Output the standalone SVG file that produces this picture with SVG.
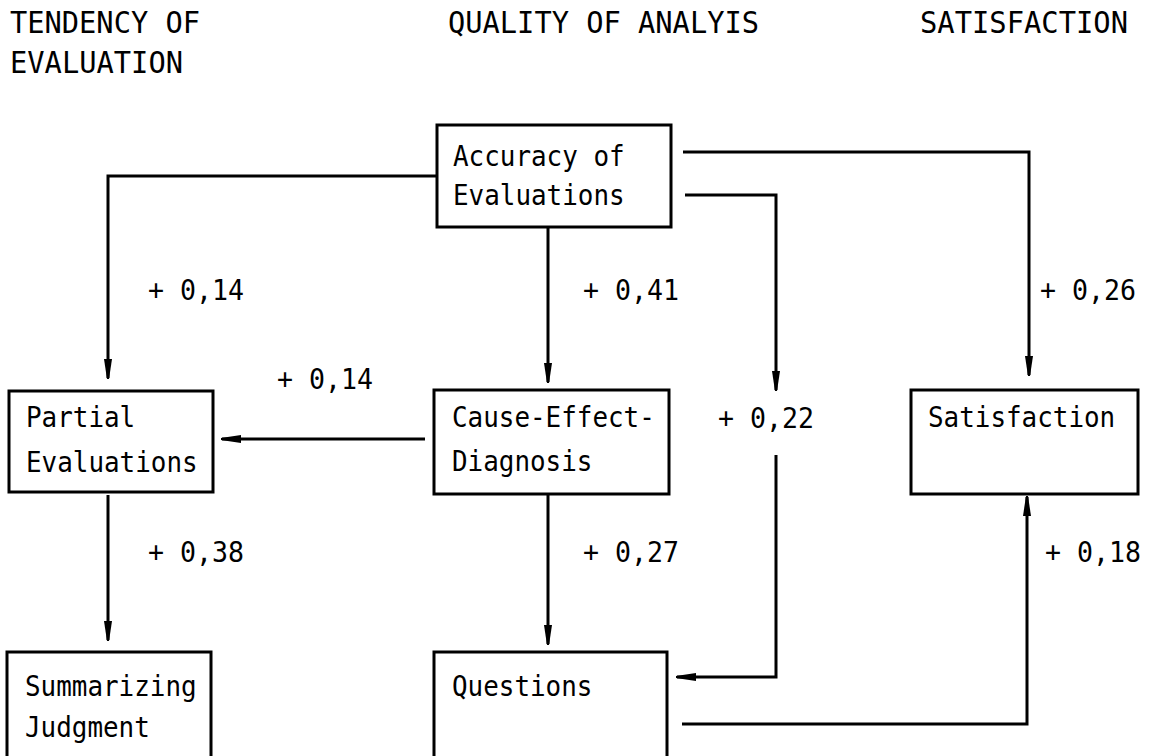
<svg xmlns="http://www.w3.org/2000/svg" width="1155" height="756" viewBox="0 0 1155 756">
<style>
text{font-family:"DejaVu Sans Mono","Liberation Mono",monospace;font-size:28px;fill:#000}
.hd{font-size:30px}
.box{fill:none;stroke:#000;stroke-width:3}
.ln{fill:none;stroke:#000;stroke-width:3}
</style>
<defs>
<marker id="ah" viewBox="0 0 20 10" refX="19" refY="5" markerWidth="20" markerHeight="10" markerUnits="userSpaceOnUse" orient="auto">
<path d="M0,1 L20,4 L20,6 L0,9 z" fill="#000"/>
</marker>
</defs>
<rect width="1155" height="756" fill="#fff"/>
<g id="headers">
<text class="hd" x="10" y="33" textLength="190" lengthAdjust="spacingAndGlyphs">TENDENCY OF</text>
<text class="hd" x="10" y="73" textLength="173" lengthAdjust="spacingAndGlyphs">EVALUATION</text>
<text class="hd" x="448" y="33" textLength="311" lengthAdjust="spacingAndGlyphs">QUALITY OF ANALYIS</text>
<text class="hd" x="920" y="33" textLength="208" lengthAdjust="spacingAndGlyphs">SATISFACTION</text>
</g>
<g id="accuracy">
<rect class="box" x="437" y="125" width="234" height="102"/>
<text x="453" y="166" textLength="171.6" lengthAdjust="spacingAndGlyphs">Accuracy of</text>
<text x="453" y="205" textLength="171.6" lengthAdjust="spacingAndGlyphs">Evaluations</text>
</g>
<g id="partial">
<rect class="box" x="9" y="391" width="204" height="101"/>
<text x="26" y="427" textLength="109.2" lengthAdjust="spacingAndGlyphs">Partial</text>
<text x="26" y="472" textLength="171.6" lengthAdjust="spacingAndGlyphs">Evaluations</text>
</g>
<g id="cause">
<rect class="box" x="434" y="390" width="235" height="104"/>
<text x="452" y="427" textLength="202.8" lengthAdjust="spacingAndGlyphs">Cause-Effect-</text>
<text x="452" y="471" textLength="140.4" lengthAdjust="spacingAndGlyphs">Diagnosis</text>
</g>
<g id="satisfaction">
<rect class="box" x="911" y="390" width="227" height="104"/>
<text x="928" y="427" textLength="187.2" lengthAdjust="spacingAndGlyphs">Satisfaction</text>
</g>
<g id="summarizing">
<rect class="box" x="7" y="652" width="204" height="110"/>
<text x="25" y="696" textLength="171.6" lengthAdjust="spacingAndGlyphs">Summarizing</text>
<text x="25" y="737" textLength="124.8" lengthAdjust="spacingAndGlyphs">Judgment</text>
</g>
<g id="questions">
<rect class="box" x="434" y="652" width="233" height="110"/>
<text x="452" y="696" textLength="140.4" lengthAdjust="spacingAndGlyphs">Questions</text>
</g>
<g id="connectors">
<path class="ln" d="M437,176 H108 V378" marker-end="url(#ah)"/>
<path class="ln" d="M548,227 V382" marker-end="url(#ah)"/>
<path class="ln" d="M683,152 H1029 V375" marker-end="url(#ah)"/>
<path class="ln" d="M685,195 H776 V390" marker-end="url(#ah)"/>
<path class="ln" d="M776,455 V677 H677" marker-end="url(#ah)"/>
<path class="ln" d="M425,439 H222" marker-end="url(#ah)"/>
<path class="ln" d="M108,495 V640" marker-end="url(#ah)"/>
<path class="ln" d="M548,495 V644" marker-end="url(#ah)"/>
<path class="ln" d="M682,724 H1027 V497" marker-end="url(#ah)"/>
</g>
<g id="labels">
<text x="148" y="300" textLength="96" lengthAdjust="spacingAndGlyphs">+ 0,14</text>
<text x="583" y="300" textLength="96" lengthAdjust="spacingAndGlyphs">+ 0,41</text>
<text x="1040" y="300" textLength="96" lengthAdjust="spacingAndGlyphs">+ 0,26</text>
<text x="277" y="389" textLength="96" lengthAdjust="spacingAndGlyphs">+ 0,14</text>
<text x="718" y="428" textLength="96" lengthAdjust="spacingAndGlyphs">+ 0,22</text>
<text x="148" y="562" textLength="96" lengthAdjust="spacingAndGlyphs">+ 0,38</text>
<text x="583" y="562" textLength="96" lengthAdjust="spacingAndGlyphs">+ 0,27</text>
<text x="1045" y="562" textLength="96" lengthAdjust="spacingAndGlyphs">+ 0,18</text>
</g>
</svg>
